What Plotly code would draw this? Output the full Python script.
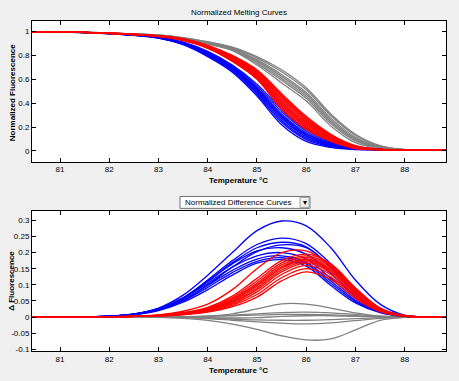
import plotly.graph_objects as go

W, H = 459, 381

# ---------------- data ----------------
T_MELT = [80.4, 81, 82, 83, 83.5, 84, 84.5, 85, 85.5, 86, 86.5, 87, 87.5, 88, 88.9]

gray_melt = [
    [1.0, 0.998, 0.988, 0.972, 0.950, 0.915, 0.870, 0.790, 0.680, 0.530, 0.310, 0.140, 0.045, 0.012, 0.01],
    [1.0, 0.998, 0.988, 0.971, 0.948, 0.912, 0.865, 0.780, 0.663, 0.513, 0.295, 0.130, 0.041, 0.012, 0.01],
    [1.0, 0.998, 0.988, 0.970, 0.946, 0.908, 0.860, 0.765, 0.640, 0.490, 0.275, 0.115, 0.036, 0.011, 0.01],
    [1.0, 0.998, 0.987, 0.969, 0.945, 0.905, 0.855, 0.755, 0.625, 0.475, 0.260, 0.105, 0.032, 0.011, 0.01],
    [1.0, 0.998, 0.987, 0.968, 0.943, 0.902, 0.850, 0.745, 0.608, 0.458, 0.245, 0.095, 0.029, 0.011, 0.01],
    [1.0, 0.998, 0.987, 0.967, 0.942, 0.899, 0.846, 0.734, 0.592, 0.442, 0.230, 0.084, 0.025, 0.010, 0.01],
    [1.0, 0.997, 0.986, 0.966, 0.940, 0.895, 0.840, 0.720, 0.570, 0.420, 0.210, 0.070, 0.020, 0.010, 0.01],
]
blue_melt = [
    [1.0, 0.998, 0.986, 0.955, 0.912, 0.835, 0.720, 0.560, 0.350, 0.180, 0.080, 0.032, 0.014, 0.01, 0.01],
    [1.0, 0.998, 0.985, 0.954, 0.909, 0.828, 0.711, 0.545, 0.330, 0.165, 0.072, 0.029, 0.013, 0.01, 0.01],
    [1.0, 0.998, 0.985, 0.952, 0.905, 0.822, 0.702, 0.530, 0.310, 0.150, 0.065, 0.026, 0.012, 0.01, 0.01],
    [1.0, 0.998, 0.984, 0.951, 0.903, 0.817, 0.696, 0.520, 0.298, 0.140, 0.060, 0.024, 0.012, 0.01, 0.01],
    [1.0, 0.998, 0.984, 0.950, 0.901, 0.812, 0.690, 0.510, 0.285, 0.130, 0.055, 0.022, 0.012, 0.01, 0.01],
    [1.0, 0.997, 0.984, 0.949, 0.899, 0.808, 0.684, 0.500, 0.272, 0.120, 0.050, 0.020, 0.011, 0.01, 0.01],
    [1.0, 0.997, 0.983, 0.948, 0.896, 0.803, 0.677, 0.488, 0.256, 0.108, 0.044, 0.018, 0.011, 0.01, 0.01],
    [1.0, 0.997, 0.983, 0.946, 0.893, 0.797, 0.669, 0.475, 0.240, 0.095, 0.037, 0.015, 0.010, 0.01, 0.01],
    [1.0, 0.997, 0.982, 0.945, 0.890, 0.790, 0.660, 0.460, 0.220, 0.080, 0.030, 0.012, 0.010, 0.01, 0.01],
]
red_melt = [
    [1.0, 0.998, 0.987, 0.966, 0.940, 0.885, 0.800, 0.680, 0.480, 0.290, 0.140, 0.045, 0.015, 0.01, 0.01],
    [1.0, 0.998, 0.987, 0.965, 0.938, 0.882, 0.795, 0.672, 0.467, 0.279, 0.134, 0.042, 0.015, 0.01, 0.01],
    [1.0, 0.998, 0.987, 0.964, 0.937, 0.880, 0.790, 0.664, 0.454, 0.268, 0.128, 0.040, 0.014, 0.01, 0.01],
    [1.0, 0.998, 0.986, 0.964, 0.935, 0.877, 0.785, 0.656, 0.441, 0.257, 0.122, 0.037, 0.014, 0.01, 0.01],
    [1.0, 0.998, 0.986, 0.963, 0.934, 0.875, 0.780, 0.648, 0.428, 0.246, 0.116, 0.035, 0.013, 0.01, 0.01],
    [1.0, 0.998, 0.986, 0.962, 0.932, 0.872, 0.775, 0.640, 0.415, 0.235, 0.110, 0.032, 0.013, 0.01, 0.01],
    [1.0, 0.998, 0.985, 0.961, 0.931, 0.870, 0.770, 0.632, 0.402, 0.224, 0.104, 0.030, 0.012, 0.01, 0.01],
    [1.0, 0.998, 0.985, 0.960, 0.929, 0.867, 0.765, 0.624, 0.389, 0.213, 0.098, 0.027, 0.012, 0.01, 0.01],
    [1.0, 0.997, 0.985, 0.960, 0.928, 0.865, 0.760, 0.616, 0.376, 0.202, 0.092, 0.025, 0.011, 0.01, 0.01],
    [1.0, 0.997, 0.984, 0.959, 0.926, 0.862, 0.755, 0.608, 0.363, 0.191, 0.086, 0.022, 0.011, 0.01, 0.01],
    [1.0, 0.997, 0.984, 0.958, 0.925, 0.860, 0.750, 0.600, 0.350, 0.180, 0.080, 0.020, 0.010, 0.01, 0.01],
]

T_DIFF = [80.4, 81, 81.5, 82, 82.5, 83, 83.5, 84, 84.5, 85, 85.5, 86, 86.5, 87, 87.5, 88, 88.9]

gray_diff = [
    [0, 0, 0, 0, 0, 0.001, 0.001, 0.003, 0.010, 0.025, 0.041, 0.040, 0.028, 0.013, 0.003, 0.0, 0],
    [0, 0, 0, 0, 0, 0, 0.001, 0.003, 0.006, 0.010, 0.014, 0.015, 0.013, 0.008, 0.003, 0, 0],
    [0, 0, 0, 0, 0, 0, 0, 0.002, 0.004, 0.006, 0.008, 0.008, 0.007, 0.004, 0.001, 0, 0],
    [0, 0, 0, 0, 0, 0, -0.001, -0.002, -0.003, -0.002, 0.002, 0.004, 0.004, 0.002, 0.001, 0, 0],
    [0, 0, 0, 0, 0, 0, -0.001, -0.003, -0.006, -0.009, -0.010, -0.010, -0.008, -0.005, -0.002, 0, 0],
    [0, 0, 0, 0, 0, -0.001, -0.002, -0.005, -0.010, -0.015, -0.019, -0.021, -0.018, -0.011, -0.004, -0.001, 0],
    [0, 0, 0, 0, 0, -0.001, -0.004, -0.010, -0.022, -0.038, -0.058, -0.071, -0.068, -0.040, -0.010, -0.001, 0],
]
blue_diff = [
    [0, 0, 0.001, 0.003, 0.010, 0.028, 0.068, 0.130, 0.200, 0.268, 0.298, 0.283, 0.215, 0.115, 0.040, 0.006, 0],
    [0, 0, 0.001, 0.003, 0.009, 0.025, 0.060, 0.115, 0.175, 0.225, 0.245, 0.228, 0.165, 0.085, 0.028, 0.004, 0],
    [0, 0, 0.001, 0.003, 0.009, 0.025, 0.058, 0.110, 0.168, 0.215, 0.232, 0.218, 0.155, 0.078, 0.025, 0.004, 0],
    [0, 0, 0.001, 0.003, 0.008, 0.022, 0.052, 0.100, 0.155, 0.203, 0.224, 0.215, 0.155, 0.078, 0.025, 0.004, 0],
    [0, 0, 0.001, 0.003, 0.009, 0.026, 0.060, 0.112, 0.165, 0.205, 0.215, 0.195, 0.135, 0.065, 0.020, 0.003, 0],
    [0, 0, 0.001, 0.003, 0.009, 0.025, 0.058, 0.105, 0.155, 0.190, 0.200, 0.180, 0.120, 0.058, 0.018, 0.003, 0],
    [0, 0, 0.001, 0.003, 0.008, 0.023, 0.053, 0.098, 0.145, 0.180, 0.190, 0.170, 0.112, 0.052, 0.016, 0.003, 0],
    [0, 0, 0.001, 0.003, 0.008, 0.022, 0.050, 0.092, 0.138, 0.173, 0.184, 0.165, 0.105, 0.048, 0.015, 0.003, 0],
    [0, 0, 0.001, 0.002, 0.007, 0.020, 0.046, 0.085, 0.130, 0.167, 0.178, 0.158, 0.098, 0.044, 0.014, 0.002, 0],
]
red_diff = [
    [0, 0, 0, 0.001, 0.003, 0.007, 0.018, 0.040, 0.085, 0.150, 0.200, 0.205, 0.160, 0.090, 0.028, 0.004, 0],
    [0, 0, 0, 0.001, 0.003, 0.006, 0.014, 0.030, 0.065, 0.120, 0.175, 0.195, 0.165, 0.090, 0.027, 0.004, 0],
    [0, 0, 0, 0.001, 0.002, 0.005, 0.013, 0.028, 0.060, 0.112, 0.168, 0.190, 0.160, 0.087, 0.026, 0.004, 0],
    [0, 0, 0, 0.001, 0.002, 0.005, 0.012, 0.026, 0.056, 0.105, 0.162, 0.185, 0.155, 0.084, 0.025, 0.004, 0],
    [0, 0, 0, 0.001, 0.002, 0.005, 0.012, 0.025, 0.053, 0.100, 0.156, 0.180, 0.150, 0.080, 0.024, 0.004, 0],
    [0, 0, 0, 0.001, 0.002, 0.004, 0.011, 0.024, 0.050, 0.096, 0.152, 0.177, 0.146, 0.077, 0.023, 0.003, 0],
    [0, 0, 0, 0.001, 0.002, 0.004, 0.010, 0.022, 0.047, 0.090, 0.146, 0.172, 0.142, 0.074, 0.022, 0.003, 0],
    [0, 0, 0, 0.001, 0.002, 0.004, 0.010, 0.021, 0.044, 0.085, 0.140, 0.167, 0.138, 0.072, 0.021, 0.003, 0],
    [0, 0, 0, 0.001, 0.002, 0.004, 0.009, 0.019, 0.040, 0.078, 0.132, 0.160, 0.132, 0.068, 0.020, 0.003, 0],
    [0, 0, 0, 0.001, 0.002, 0.003, 0.008, 0.017, 0.036, 0.070, 0.122, 0.150, 0.124, 0.063, 0.018, 0.003, 0],
    [0, 0, 0, 0.001, 0.002, 0.003, 0.007, 0.015, 0.032, 0.062, 0.112, 0.140, 0.116, 0.058, 0.017, 0.002, 0],
]

X_TICKS = [81, 82, 83, 84, 85, 86, 87, 88]
MELT_Y_TICKS = [0, 0.2, 0.4, 0.6, 0.8, 1]
MELT_Y_LABELS = ["0", "0.2", "0.4", "0.6", "0.8", "1"]
DIFF_Y_TICKS = [-0.1, -0.05, 0, 0.05, 0.1, 0.15, 0.2, 0.25, 0.3]
DIFF_Y_LABELS = ["-0.1", "-0.05", "0", "0.05", "0.1", "0.15", "0.2", "0.25", "0.3"]

GRAY, BLUE, RED = "#808080", "#0000ff", "#ff0000"

# ---------------- figure ----------------
fig = go.Figure()

def add_group(t, curves, color, xa, ya):
    for c in curves:
        fig.add_trace(go.Scatter(x=t, y=c, mode="lines", xaxis=xa, yaxis=ya,
                                 line=dict(color=color, width=1.3, shape="spline"),
                                 hoverinfo="skip", showlegend=False))

add_group(T_MELT, gray_melt, GRAY, "x", "y")
add_group(T_MELT, blue_melt, BLUE, "x", "y")
add_group(T_MELT, red_melt, RED, "x", "y")
add_group(T_DIFF, gray_diff, GRAY, "x2", "y2")
add_group(T_DIFF, blue_diff, BLUE, "x2", "y2")
add_group(T_DIFF, red_diff, RED, "x2", "y2")

def px(x):
    return x / W

def py(y):
    return 1 - y / H

ax_common = dict(showline=True, linecolor="#000", linewidth=1, mirror="ticks",
                 ticks="inside", ticklen=4, tickcolor="#000", showgrid=False,
                 zeroline=False, tickfont=dict(size=8, color="#000"), fixedrange=True)

XDOM = [px(32), px(446)]
fig.update_layout(
    width=W, height=H,
    margin=dict(l=0, r=0, t=0, b=0),
    paper_bgcolor="#f0f0f0", plot_bgcolor="#ffffff",
    showlegend=False,
    font=dict(family="Liberation Sans, Arial, sans-serif", size=8, color="#000"),
    xaxis=dict(domain=XDOM, range=[80.43, 88.84], tickvals=X_TICKS, anchor="y", **ax_common),
    yaxis=dict(domain=[py(163), py(21)], range=[-0.09, 1.09], tickvals=MELT_Y_TICKS,
               ticktext=MELT_Y_LABELS, anchor="x", **ax_common),
    xaxis2=dict(domain=XDOM, range=[80.43, 88.84], tickvals=X_TICKS, anchor="y2", **ax_common),
    yaxis2=dict(domain=[py(354), py(213)], range=[-0.106, 0.328], tickvals=DIFF_Y_TICKS,
                ticktext=DIFF_Y_LABELS, anchor="x2", **ax_common),
)

ann = [
    dict(text="Normalized Melting Curves", x=px(239), y=py(13)),
    dict(text="<b>Temperature °C</b>", x=px(238), y=py(182)),
    dict(text="<b>Temperature °C</b>", x=px(238), y=py(373)),
    dict(text="<b>Normalized Fluorescence</b>", x=px(12), y=py(94), textangle=-90),
    dict(text="<b>Δ Fluorescence</b>", x=px(12), y=py(283), textangle=-90),
]
for a in ann:
    fig.add_annotation(xref="paper", yref="paper", showarrow=False,
                       xanchor="center", yanchor="middle",
                       font=dict(size=8, color="#000"), **a)

# dropdown look-alike
fig.add_shape(type="rect", xref="paper", yref="paper", x0=px(180), x1=px(310), y0=py(210), y1=py(198),
              fillcolor="#ffffff", line=dict(color="#707070", width=1))
fig.add_shape(type="rect", xref="paper", yref="paper", x0=px(300), x1=px(309), y0=py(209), y1=py(199),
              fillcolor="#f0f0f0", line=dict(color="#a0a0a0", width=1))
fig.add_annotation(xref="paper", yref="paper", showarrow=False, text="Normalized Difference Curves",
                   x=px(183), y=py(204), xanchor="left", yanchor="middle", font=dict(size=8, color="#000"))
fig.add_annotation(xref="paper", yref="paper", showarrow=False, text="▾",
                   x=px(304.5), y=py(204), xanchor="center", yanchor="middle", font=dict(size=8, color="#000"))

fig.write_html("out.html",
               config={"displayModeBar": False},
               post_script="document.body.style.margin='0';document.body.style.padding='0';"
                           "document.body.style.overflow='hidden';")
